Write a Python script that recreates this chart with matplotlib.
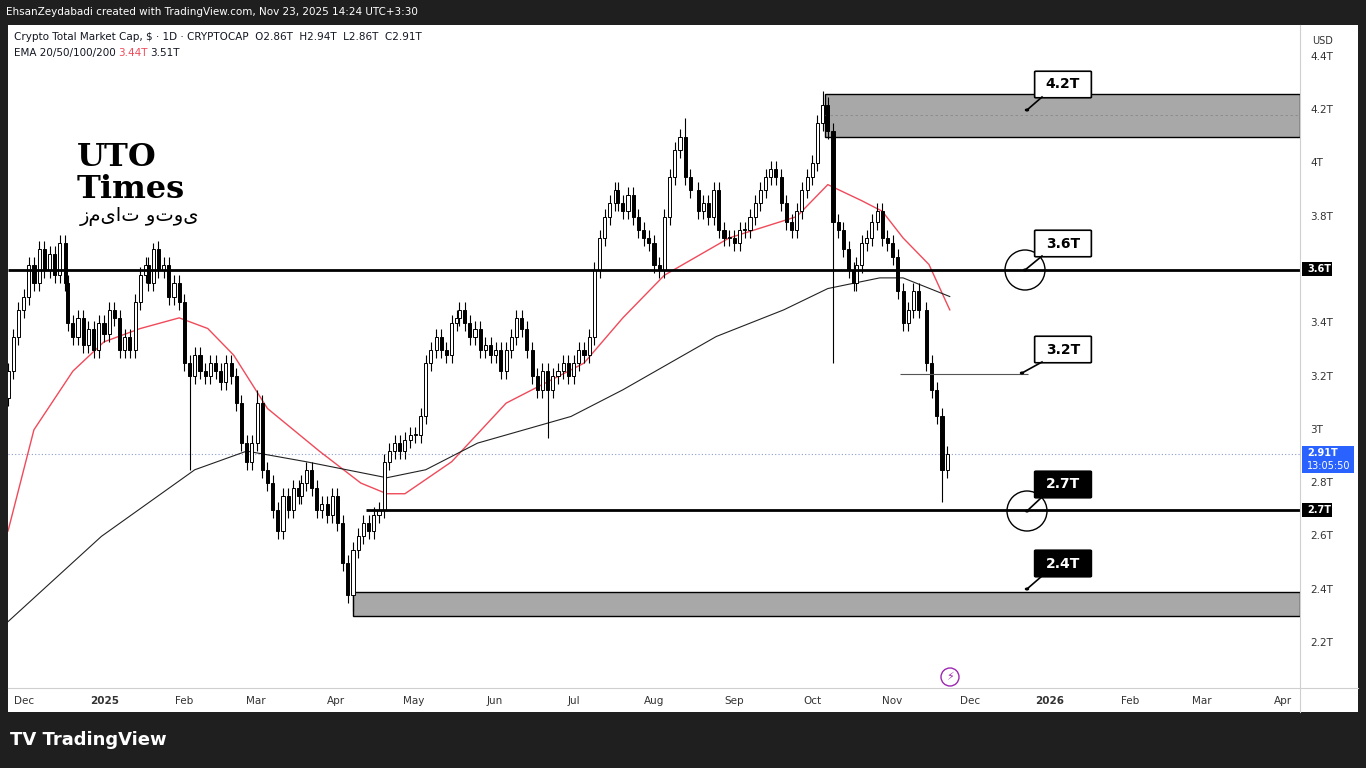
import matplotlib
matplotlib.use("Agg")
import matplotlib.pyplot as plt
import matplotlib.dates as mdates
import numpy as np
import datetime as dt
from matplotlib.patches import Rectangle, FancyBboxPatch, Circle, Ellipse

# ---------------- data (closes, ~2-day candles) ----------------
months = [
    ("2024-11-25", 6,  [3.22, 3.35, 3.45]),
    ("2024-12-01", 31, [3.5, 3.62, 3.55, 3.68, 3.6, 3.66, 3.58, 3.7, 3.55, 3.4, 3.35, 3.42, 3.32, 3.38, 3.3, 3.4]),
    ("2025-01-01", 31, [3.36, 3.45, 3.42, 3.3, 3.35, 3.3, 3.48, 3.58, 3.62, 3.55, 3.68, 3.6, 3.62, 3.5, 3.55, 3.48]),
    ("2025-02-01", 28, [3.25, 3.2, 3.28, 3.22, 3.2, 3.25, 3.22, 3.18, 3.25, 3.2, 3.1, 2.95, 2.88, 2.95]),
    ("2025-03-01", 31, [3.1, 2.85, 2.8, 2.7, 2.62, 2.75, 2.7, 2.78, 2.75, 2.8, 2.85, 2.78, 2.7, 2.72, 2.68, 2.75]),
    ("2025-04-01", 30, [2.65, 2.5, 2.38, 2.55, 2.6, 2.65, 2.62, 2.68, 2.7, 2.88, 2.92, 2.95, 2.92, 2.96, 2.98]),
    ("2025-05-01", 31, [2.98, 3.05, 3.25, 3.3, 3.35, 3.3, 3.28, 3.4, 3.42, 3.45, 3.4, 3.35, 3.38, 3.3, 3.32, 3.28]),
    ("2025-06-01", 30, [3.3, 3.22, 3.3, 3.35, 3.42, 3.38, 3.3, 3.2, 3.15, 3.22, 3.15, 3.2, 3.22, 3.25, 3.2]),
    ("2025-07-01", 31, [3.25, 3.3, 3.28, 3.35, 3.6, 3.72, 3.8, 3.85, 3.9, 3.85, 3.82, 3.88, 3.8, 3.75, 3.72, 3.7]),
    ("2025-08-01", 31, [3.62, 3.6, 3.8, 3.95, 4.05, 4.1, 3.95, 3.9, 3.82, 3.85, 3.8, 3.9, 3.75, 3.72, 3.72]),
    ("2025-09-01", 30, [3.7, 3.75, 3.75, 3.8, 3.85, 3.9, 3.95, 3.98, 3.95, 3.85, 3.78, 3.75, 3.82, 3.9, 3.95]),
    ("2025-10-01", 31, [4.0, 4.15, 4.22, 4.12, 3.78, 3.75, 3.68, 3.6, 3.55, 3.62, 3.7, 3.72, 3.78, 3.82, 3.72, 3.7]),
    ("2025-11-01", 23, [3.65, 3.52, 3.4, 3.45, 3.52, 3.45, 3.25, 3.15, 3.05, 2.85, 2.91]),
]
open_first = 3.12
wick_overrides = {  # date: (high, low)
    "2024-12-17": (3.73, None), "2025-01-21": (3.70, None), "2025-02-03": (None, 2.85),
    "2025-03-02": (3.15, None), "2025-04-07": (None, 2.32), "2025-06-22": (None, 2.97),
    "2025-08-14": (4.17, None), "2025-10-06": (4.27, None), "2025-10-10": (None, 3.25),
    "2025-11-21": (None, 2.73),
}
ema50_x = ["2024-11-25","2024-12-05","2024-12-20","2025-01-01","2025-01-15","2025-01-30","2025-02-10","2025-02-20","2025-03-05","2025-03-25","2025-04-10","2025-04-20","2025-04-27","2025-05-15","2025-06-05","2025-06-25","2025-07-05","2025-07-20","2025-08-05","2025-08-30","2025-09-25","2025-10-07","2025-10-20","2025-10-28","2025-11-05","2025-11-15","2025-11-23"]
ema50_y = [2.62, 3.0, 3.22, 3.33, 3.38, 3.42, 3.38, 3.28, 3.08, 2.92, 2.8, 2.76, 2.76, 2.88, 3.1, 3.2, 3.25, 3.42, 3.58, 3.72, 3.8, 3.92, 3.86, 3.82, 3.72, 3.62, 3.45]
ema200_x = ["2024-11-25","2024-12-31","2025-02-05","2025-02-25","2025-03-20","2025-04-20","2025-05-05","2025-05-25","2025-06-30","2025-07-20","2025-08-25","2025-09-20","2025-10-07","2025-10-27","2025-11-05","2025-11-23"]
ema200_y = [2.28, 2.6, 2.85, 2.92, 2.88, 2.82, 2.85, 2.95, 3.05, 3.15, 3.35, 3.45, 3.53, 3.57, 3.57, 3.5]

# ---------------- build OHLC ----------------
dates, closes = [], []
for start, span, vals in months:
    s = dt.datetime.strptime(start, "%Y-%m-%d")
    n = len(vals)
    for i, v in enumerate(vals):
        dates.append(s + dt.timedelta(days=round(i * span / n)))
        closes.append(v)
opens = [open_first] + closes[:-1]
highs = [max(o, c) + 0.03 for o, c in zip(opens, closes)]
lows = [min(o, c) - 0.03 for o, c in zip(opens, closes)]
for k, (h, l) in wick_overrides.items():
    d = dt.datetime.strptime(k, "%Y-%m-%d")
    i = int(np.argmin([abs((x - d).days) for x in dates]))
    if h: highs[i] = h
    if l: lows[i] = l

W, H = 1366, 768
fig = plt.figure(figsize=(W/100, H/100), dpi=100)
fig.patch.set_facecolor("#1f1f1f")
def P(x, y):
    return (x / W, 1 - y / H)

bg = fig.add_axes([8/W, (768-712)/H, 1350/W, 687/H]); bg.set_facecolor("white")
bg.set_xticks([]); bg.set_yticks([])
for s in bg.spines.values(): s.set_visible(False)

ax = fig.add_axes([8/W, (768-688)/H, 1292/W, 663/H])
ax.set_facecolor("white")
ax.set_xlim(mdates.date2num(dt.datetime(2024, 11, 25)), mdates.date2num(dt.datetime(2026, 4, 7)))
ax.set_ylim(2.031, 4.519)

xd = mdates.date2num(dates)
for x, o, h, l, c in zip(xd, opens, highs, lows, closes):
    up = c >= o
    ax.vlines(x, l, h, color="black", lw=0.8, zorder=3)
    ax.add_patch(Rectangle((x - 0.6, min(o, c)), 1.2, max(abs(c - o), 0.004),
                           facecolor="white" if up else "black", edgecolor="black", lw=0.7, zorder=4))

ax.plot(mdates.date2num([dt.datetime.strptime(d, "%Y-%m-%d") for d in ema50_x]), ema50_y, color="#f04a5a", lw=1, zorder=2)
ax.plot(mdates.date2num([dt.datetime.strptime(d, "%Y-%m-%d") for d in ema200_x]), ema200_y, color="#222222", lw=0.8, zorder=2)

def D(s): return mdates.date2num(dt.datetime.strptime(s, "%Y-%m-%d"))
xr = ax.get_xlim()[1]
ax.add_patch(Rectangle((D("2025-10-06"), 4.10), xr - D("2025-10-06"), 0.16, facecolor="#a8a8a8", edgecolor="black", lw=1, zorder=1))
ax.hlines(4.18, D("2025-10-06"), xr, color="#888888", lw=0.6, ls=(0, (3, 3)))
ax.add_patch(Rectangle((D("2025-04-07"), 2.30), xr - D("2025-04-07"), 0.09, facecolor="#a8a8a8", edgecolor="black", lw=1, zorder=1))
ax.hlines(3.6, ax.get_xlim()[0], xr, color="black", lw=2, zorder=5)
ax.hlines(2.7, D("2025-04-12"), xr, color="black", lw=2, zorder=5)
ax.hlines(3.21, D("2025-11-04"), D("2025-12-23"), color="#555555", lw=0.8, zorder=5)
ax.hlines(2.91, ax.get_xlim()[0], xr, color="#8a9bd0", lw=0.8, ls=(0, (1, 2)), zorder=1)

ax.set_xticks([]); ax.set_yticks([])
for s in ax.spines.values(): s.set_visible(False)

# right axis
yticks = [2.2, 2.4, 2.6, 2.8, 3.0, 3.2, 3.4, 3.8, 4.0, 4.2, 4.4]
for v in yticks:
    ypx = 110 + (4.2 - v) / 0.2 * 53.3
    lab = ("%gT" % v)
    if v == 3.0: lab = "3T"
    if v == 4.0: lab = "4T"
    fig.text(*P(1310, ypx), lab, fontsize=7.5, color="#333333", va="center")
fig.add_artist(plt.Line2D([1300/W, 1300/W], [1 - 25/H, 1 - 712/H], color="#cfcfcf", lw=0.8))
fig.add_artist(plt.Line2D([8/W, 1358/W], [1 - 688/H, 1 - 688/H], color="#cfcfcf", lw=0.8))
fig.text(*P(1312, 41), "USD", fontsize=7, color="#333333", va="center")
for ypx, txt in [(269, "3.6T"), (510, "2.7T")]:
    fig.patches.append(Rectangle(P(1302, ypx + 7), 30/W, 14/H, transform=fig.transFigure, facecolor="black", figure=fig))
    fig.text(*P(1307, ypx), txt, fontsize=7, color="white", va="center", weight="bold")
fig.patches.append(Rectangle(P(1302, 473), 52/W, 27/H, transform=fig.transFigure, facecolor="#2962ff", figure=fig))
fig.text(*P(1307, 453), "2.91T", fontsize=7, color="white", va="center", weight="bold")
fig.text(*P(1307, 466), "13:05:50", fontsize=7, color="white", va="center")

for xp, t, b in [(24, "Dec", 0), (105, "2025", 1), (184, "Feb", 0), (256, "Mar", 0), (336, "Apr", 0), (414, "May", 0),
                 (495, "Jun", 0), (574, "Jul", 0), (654, "Aug", 0), (734, "Sep", 0), (812, "Oct", 0), (892, "Nov", 0),
                 (970, "Dec", 0), (1050, "2026", 1), (1130, "Feb", 0), (1202, "Mar", 0), (1283, "Apr", 0)]:
    fig.text(*P(xp, 701), t, fontsize=7.5, color="#333333", ha="center", va="center", weight="bold" if b else "normal")

fig.text(*P(6, 12), "EhsanZeydabadi created with TradingView.com, Nov 23, 2025 14:24 UTC+3:30", fontsize=7.5, color="white", va="center")
fig.text(*P(14, 37), "Crypto Total Market Cap, $ · 1D · CRYPTOCAP  O2.86T  H2.94T  L2.86T  C2.91T", fontsize=7.5, color="#131722", va="center")
fig.text(*P(14, 53), "EMA 20/50/100/200", fontsize=7.5, color="#131722", va="center")
fig.text(*P(118, 53), "3.44T", fontsize=7.5, color="#f04a5a", va="center")
fig.text(*P(150, 53), "3.51T", fontsize=7.5, color="#131722", va="center")
fig.text(*P(10, 740), "TV TradingView", fontsize=13, color="white", va="center", weight="bold")

fig.text(*P(77, 158), "UTO", fontsize=23, family="DejaVu Serif", color="black", va="center", weight="bold")
fig.text(*P(77, 190), "Times", fontsize=23, family="DejaVu Serif", color="black", va="center", weight="bold")
fig.text(*P(80, 216), "یوتو تایمز"[::-1], fontsize=14, family="DejaVu Sans", color="black", va="center")

def callout(xb, yb, txt, dark, px, py, circ=False):
    fig.patches.append(FancyBboxPatch(P(xb, yb + 25), 54/W, 25/H, boxstyle="round,pad=0.001",
                       transform=fig.transFigure, facecolor="black" if dark else "white", edgecolor="black", lw=1.2, figure=fig))
    fig.text(*P(xb + 27, yb + 12.5), txt, fontsize=10, weight="bold", color="white" if dark else "black", ha="center", va="center")
    fig.add_artist(plt.Line2D([P(xb+6, 0)[0], px/W], [P(0, yb+25)[1], P(0, py)[1]], color="black", lw=1.2))
    fig.add_artist(Circle(P(px, py), 1.5/W, transform=fig.transFigure, color="black"))
    if circ:
        fig.add_artist(Ellipse(P(px, py), 40/W, 40/H, transform=fig.transFigure, fill=False, edgecolor="black", lw=1))

callout(1036, 72, "4.2T", False, 1027, 110)
callout(1036, 231, "3.6T", False, 1025, 270, True)
callout(1036, 337, "3.2T", False, 1022, 373)
callout(1036, 472, "2.7T", True, 1027, 511, True)
callout(1036, 551, "2.4T", True, 1027, 589)
fig.add_artist(Ellipse(P(950, 677), 18/W, 18/H, transform=fig.transFigure, fill=False, edgecolor="#9c27b0", lw=1))
fig.text(*P(950, 677), "⚡", fontsize=8, color="#9c27b0", ha="center", va="center")

fig.savefig("out.png", dpi=100, facecolor=fig.get_facecolor())
